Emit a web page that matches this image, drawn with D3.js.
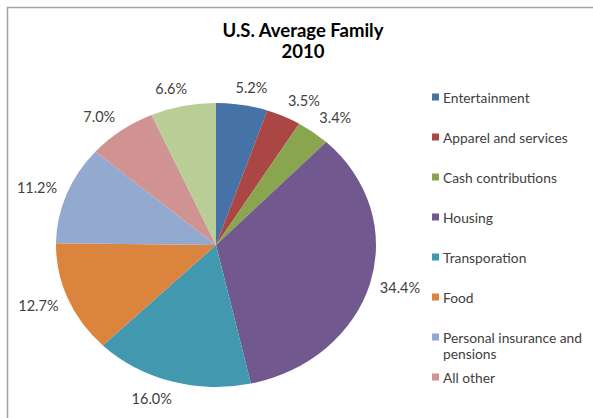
<!DOCTYPE html>
<html>
<head>
<meta charset="utf-8">
<script src="https://cdn.jsdelivr.net/npm/d3@7"></script>
<style>
  body { margin: 0; background: #fff; }
  svg { display: block; }
</style>
</head>
<body>
<svg id="chart"></svg>
<script>
/* DATA */
const categories = ["Entertainment", "Apparel and services", "Cash contributions", "Housing",
  "Transporation", "Food", "Personal insurance and pensions", "All other", "Healthcare"];
const shares = [5.2, 3.5, 3.4, 34.4, 16.0, 12.7, 11.2, 7.0, 6.6];
const colors = ["#4572A7", "#AA4643", "#89A54E", "#71588F", "#4198AF",
  "#DB843D", "#93A9CF", "#D19392", "#B9CD96"];
const titleLines = ["U.S. Average Family", "2010"];

/* CONSTANTS */
const width = 593,
  height = 418,
  cx = 216, cy = 245,
  rx = 160, ry = 142,
  font = "Lato, 'DejaVu Sans', sans-serif";

const svg = d3.select("#chart").attr("width", width).attr("height", height);

// chart border (runs off the right/bottom edge like the screenshot)
svg.append("rect")
  .attr("x", 7.5).attr("y", 7.5)
  .attr("width", width + 20).attr("height", height + 20)
  .attr("fill", "#fff")
  .attr("stroke", "#a3a3a3")
  .attr("stroke-width", 1.5);

// title
svg.append("text")
  .attr("x", 303).attr("y", 37)
  .attr("text-anchor", "middle")
  .attr("font-family", font).attr("font-weight", "bold").attr("font-size", 18.5)
  .attr("fill", "#000")
  .selectAll("tspan")
  .data(titleLines)
  .join("tspan")
  .attr("x", 303)
  .attr("dy", (d, i) => i === 0 ? 0 : 21)
  .text(d => d);

const pie = d3.pie().sort(null).value(d => d.v)(shares.map((v, i) => ({ v, i })));

// pie is a slightly stretched circle in the reference
const arc = d3.arc().innerRadius(0).outerRadius(ry);
svg.append("g")
  .attr("transform", `translate(${cx},${cy}) scale(${rx / ry},1)`)
  .selectAll("path")
  .data(pie)
  .join("path")
  .attr("d", arc)
  .attr("fill", d => colors[d.data.i]);

// labels outside end
const labels = svg.append("g")
  .attr("font-family", font).attr("font-size", 14.5).attr("fill", "#404040");

pie.forEach(d => {
  const a = (d.startAngle + d.endAngle) / 2;
  const s = Math.sin(a), c = Math.cos(a);
  const t = labels.append("text")
    .attr("text-anchor", "middle")
    .attr("dominant-baseline", "central")
    .text(d3.format(".1f")(d.data.v) + "%");
  const halfW = t.node().getComputedTextLength() / 2;
  const px = cx + (rx + 10) * s + halfW * Math.max(-1, Math.min(1, s * 3));
  const py = cy - (ry + 10) * c - 8 * c;
  t.attr("x", px).attr("y", py);
});

// legend (the original only shows the first 8 entries)
const legend = svg.append("g")
  .attr("font-family", font).attr("font-size", 13.8).attr("fill", "#404040");

const rows = legend.selectAll("g")
  .data(categories.slice(0, 8))
  .join("g")
  .attr("transform", (d, i) => `translate(432,${97 + i * 40})`);

rows.append("rect")
  .attr("x", 0).attr("y", -3.5)
  .attr("width", 7).attr("height", 7)
  .attr("fill", (d, i) => colors[i]);

rows.append("text")
  .attr("x", 11)
  .attr("dominant-baseline", "central")
  .each(function (d) {
    const words = d === "Personal insurance and pensions"
      ? ["Personal insurance and", "pensions"] : [d];
    d3.select(this).selectAll("tspan")
      .data(words)
      .join("tspan")
      .attr("x", 11)
      .attr("dy", (w, j) => j === 0 ? 0 : 16)
      .text(w => w);
  });
</script>
</body>
</html>
